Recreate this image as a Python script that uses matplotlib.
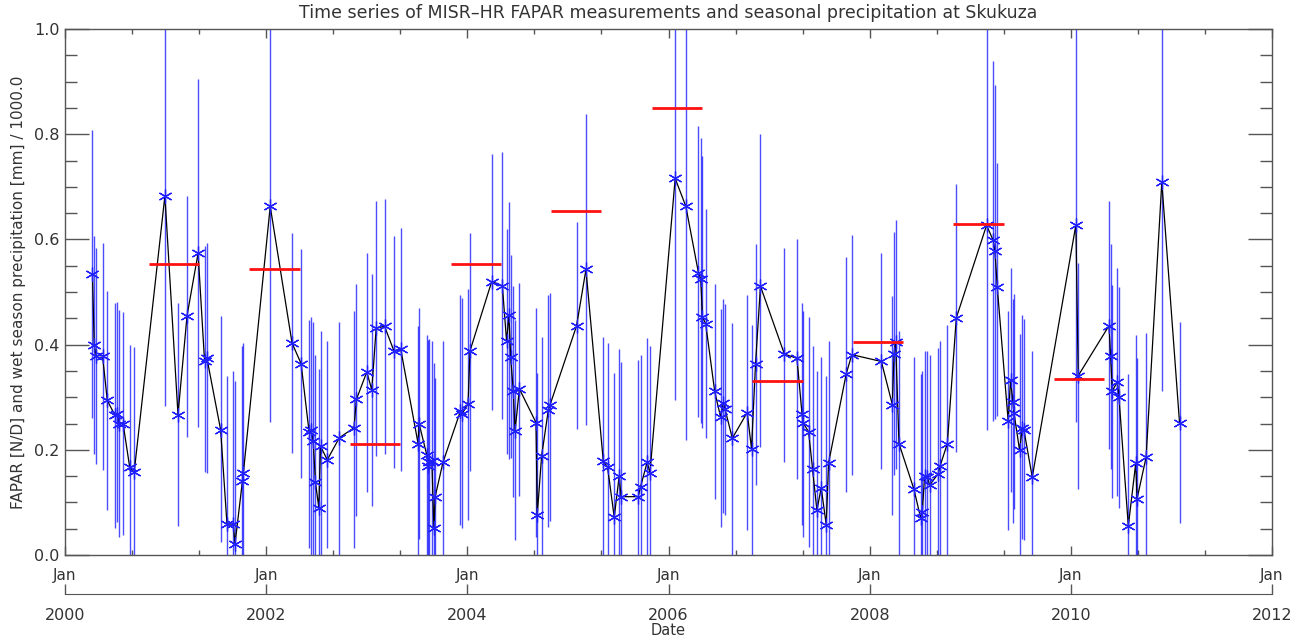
import numpy as np
import matplotlib
matplotlib.use("Agg")
from matplotlib import pyplot as plt
from matplotlib.ticker import MultipleLocator, FixedLocator

# FAPAR measurements (decimal year), value and error bar ends
dates = [2000.273, 2000.290, 2000.310, 2000.373, 2000.420, 2000.493, 2000.517, 2000.537,
         2000.577, 2000.643, 2000.687, 2000.993, 2001.123, 2001.213, 2001.323, 2001.387,
         2001.410, 2001.547, 2001.610, 2001.673, 2001.690, 2001.763, 2001.773,
         2002.040, 2002.257, 2002.347, 2002.427, 2002.447, 2002.467, 2002.490, 2002.523,
         2002.540, 2002.607, 2002.727, 2002.873, 2002.897, 2003.000, 2003.050, 2003.093,
         2003.177, 2003.270, 2003.337, 2003.510, 2003.520, 2003.597, 2003.607, 2003.623,
         2003.647, 2003.667, 2003.680, 2003.757, 2003.930, 2003.950, 2004.007, 2004.026,
         2004.242, 2004.348, 2004.390, 2004.414, 2004.430, 2004.457, 2004.474, 2004.517,
         2004.682, 2004.695, 2004.738, 2004.805, 2004.821, 2005.086, 2005.179, 2005.351,
         2005.394, 2005.460, 2005.510, 2005.527, 2005.699, 2005.722, 2005.788, 2005.815,
         2006.066, 2006.172, 2006.297, 2006.320, 2006.337, 2006.370, 2006.459, 2006.518,
         2006.545, 2006.561, 2006.634, 2006.782, 2006.825, 2006.865, 2006.914, 2007.152,
         2007.277, 2007.327, 2007.337, 2007.393, 2007.432, 2007.475, 2007.518, 2007.568,
         2007.591, 2007.766, 2007.822, 2008.116, 2008.225, 2008.242, 2008.258, 2008.291,
         2008.440, 2008.507, 2008.523, 2008.546, 2008.573, 2008.596, 2008.682, 2008.699,
         2008.772, 2008.861, 2009.162, 2009.228, 2009.245, 2009.268, 2009.377, 2009.400,
         2009.424, 2009.434, 2009.490, 2009.517, 2009.533, 2009.616, 2010.050, 2010.073,
         2010.379, 2010.395, 2010.412, 2010.462, 2010.478, 2010.571, 2010.645, 2010.658,
         2010.748, 2010.904, 2011.080]
fapar = [0.534, 0.399, 0.379, 0.379, 0.294, 0.267, 0.269, 0.250,
         0.250, 0.167, 0.157, 0.683, 0.267, 0.455, 0.574, 0.369,
         0.375, 0.238, 0.059, 0.059, 0.021, 0.141, 0.156,
         0.663, 0.403, 0.364, 0.233, 0.238, 0.217, 0.138, 0.090,
         0.207, 0.181, 0.223, 0.242, 0.296, 0.348, 0.314, 0.431,
         0.435, 0.388, 0.392, 0.212, 0.250, 0.190, 0.169, 0.176,
         0.179, 0.052, 0.111, 0.176, 0.273, 0.269, 0.288, 0.388,
         0.520, 0.512, 0.406, 0.457, 0.377, 0.311, 0.236, 0.316,
         0.252, 0.077, 0.188, 0.276, 0.285, 0.436, 0.543, 0.179,
         0.167, 0.072, 0.151, 0.111, 0.111, 0.130, 0.177, 0.156,
         0.716, 0.663, 0.537, 0.525, 0.453, 0.439, 0.311, 0.262,
         0.289, 0.278, 0.222, 0.271, 0.202, 0.364, 0.511, 0.382,
         0.374, 0.268, 0.252, 0.234, 0.164, 0.085, 0.128, 0.057,
         0.175, 0.344, 0.381, 0.368, 0.286, 0.383, 0.405, 0.212,
         0.125, 0.070, 0.082, 0.151, 0.148, 0.133, 0.155, 0.169,
         0.212, 0.451, 0.627, 0.598, 0.578, 0.510, 0.254, 0.333,
         0.291, 0.271, 0.199, 0.242, 0.238, 0.148, 0.628, 0.341,
         0.436, 0.378, 0.312, 0.329, 0.301, 0.055, 0.175, 0.107,
         0.186, 0.709, 0.252]
err_hi = [0.808, 0.607, 0.584, 0.594, 0.502, 0.479, 0.482, 0.466,
          0.462, 0.400, 0.395, 1.050, 0.479, 0.683, 0.905, 0.588,
          0.594, 0.455, 0.340, 0.350, 0.330, 0.397, 0.404,
          1.050, 0.613, 0.581, 0.446, 0.453, 0.443, 0.380, 0.354,
          0.426, 0.406, 0.444, 0.464, 0.515, 0.574, 0.535, 0.673,
          0.677, 0.607, 0.622, 0.436, 0.469, 0.418, 0.408, 0.411,
          0.406, 0.365, 0.337, 0.406, 0.495, 0.489, 0.505, 0.613,
          0.763, 0.767, 0.619, 0.672, 0.571, 0.512, 0.446, 0.518,
          0.470, 0.347, 0.415, 0.495, 0.499, 0.634, 0.838, 0.414,
          0.403, 0.346, 0.391, 0.367, 0.370, 0.380, 0.413, 0.397,
          1.050, 1.050, 0.815, 0.793, 0.759, 0.657, 0.515, 0.468,
          0.486, 0.477, 0.441, 0.495, 0.438, 0.592, 0.800, 0.584,
          0.600, 0.479, 0.464, 0.453, 0.397, 0.350, 0.377, 0.341,
          0.406, 0.567, 0.609, 0.574, 0.492, 0.614, 0.637, 0.426,
          0.377, 0.344, 0.350, 0.387, 0.387, 0.380, 0.393, 0.406,
          0.437, 0.706, 1.050, 0.940, 0.894, 0.746, 0.464, 0.546,
          0.486, 0.497, 0.420, 0.456, 0.449, 0.387, 1.050, 0.555,
          0.673, 0.591, 0.514, 0.545, 0.510, 0.345, 0.418, 0.374,
          0.423, 1.050, 0.444]
err_lo = [0.260, 0.192, 0.173, 0.161, 0.086, 0.051, 0.062, 0.034,
          0.038, 0.000, 0.000, 0.283, 0.055, 0.225, 0.244, 0.157,
          0.156, 0.024, 0.000, 0.000, 0.000, 0.000, 0.000,
          0.253, 0.194, 0.146, 0.014, 0.000, 0.000, 0.000, 0.000,
          0.000, 0.014, 0.000, 0.014, 0.074, 0.120, 0.094, 0.189,
          0.192, 0.166, 0.159, 0.000, 0.031, 0.000, 0.000, 0.000,
          0.000, 0.000, 0.000, 0.000, 0.057, 0.051, 0.067, 0.159,
          0.275, 0.258, 0.192, 0.182, 0.184, 0.110, 0.028, 0.113,
          0.034, 0.000, 0.000, 0.054, 0.064, 0.240, 0.248, 0.000,
          0.000, 0.000, 0.000, 0.000, 0.000, 0.000, 0.000, 0.000,
          0.294, 0.219, 0.262, 0.252, 0.242, 0.222, 0.107, 0.053,
          0.080, 0.077, 0.000, 0.047, 0.000, 0.134, 0.206, 0.176,
          0.145, 0.057, 0.034, 0.016, 0.000, 0.000, 0.000, 0.000,
          0.000, 0.120, 0.153, 0.163, 0.077, 0.153, 0.163, 0.000,
          0.000, 0.000, 0.000, 0.000, 0.000, 0.000, 0.000, 0.000,
          0.000, 0.196, 0.238, 0.255, 0.258, 0.265, 0.047, 0.120,
          0.061, 0.087, 0.000, 0.031, 0.028, 0.000, 0.253, 0.126,
          0.201, 0.164, 0.108, 0.113, 0.090, 0.000, 0.000, 0.000,
          0.000, 0.312, 0.061]

# wet season (Nov - Apr) precipitation, mm / 1000
season_start = [2000.833, 2001.833, 2002.833, 2003.833, 2004.833,
                2005.833, 2006.833, 2007.833, 2008.833, 2009.833]
season_end = [2001.333, 2002.333, 2003.333, 2004.333, 2005.333,
              2006.333, 2007.333, 2008.333, 2009.333, 2010.333]
precip = [0.553, 0.543, 0.212, 0.553, 0.654, 0.850, 0.331, 0.405, 0.630, 0.335]

year_ticks = [2000, 2002, 2004, 2006, 2008, 2010, 2012]

axcol = '#555555'
txtcol = '#333333'
plt.rcParams['font.family'] = 'DejaVu Sans'

fig = plt.figure(figsize=(12.98, 6.38), dpi=100)
ax = fig.add_axes([0.0501, 0.130, 0.9299, 0.8245])

ax.vlines(dates, err_lo, err_hi, color='#1010ff', linewidth=1.0, alpha=0.75, zorder=2)
ax.plot(dates, fapar, color='black', linewidth=0.9, zorder=3)
ax.plot(dates, fapar, linestyle='none', marker=(6, 2, 0), markersize=10,
        markeredgewidth=0.9, color='#2020ff', zorder=4)
ax.hlines(precip, season_start, season_end, color='#ff1010', linewidth=2.0, zorder=5)

ax.set_xlim(2000, 2012)
ax.set_ylim(0, 1.0)

# main x axis: "Jan" every two years, minor ticks every 8 months
ax.xaxis.set_major_locator(FixedLocator(year_ticks))
ax.xaxis.set_minor_locator(MultipleLocator(2 / 3))
ax.set_xticklabels(['Jan'] * len(year_ticks))
ax.yaxis.set_major_locator(MultipleLocator(0.2))
ax.yaxis.set_minor_locator(MultipleLocator(0.05))
ax.yaxis.set_major_formatter(matplotlib.ticker.FormatStrFormatter('%.1f'))

ax.tick_params(axis='x', which='major', direction='in', length=6.5, top=True,
               colors=axcol, labelcolor=txtcol, labelsize=11, pad=9, width=1)
ax.tick_params(axis='x', which='minor', direction='in', length=3.3, top=True,
               colors=axcol, width=1)
ax.tick_params(axis='y', which='major', direction='in', length=17, right=True,
               colors=axcol, labelcolor=txtcol, labelsize=11.5, pad=4, width=1)
ax.tick_params(axis='y', which='minor', direction='in', length=8.5, right=True,
               colors=axcol, width=1)
for s in ax.spines.values():
    s.set_color(axcol)
    s.set_linewidth(1.0)

ax.set_ylabel('FAPAR [N/D] and wet season precipitation [mm] / 1000.0',
              color=txtcol, fontsize=11, labelpad=6)
ax.set_title('Time series of MISR\u2013HR FAPAR measurements and seasonal precipitation at Skukuza',
             color=txtcol, fontsize=12.5, pad=8)

# second axis below with the years
sec = ax.secondary_xaxis(-0.074)
sec.xaxis.set_major_locator(FixedLocator(year_ticks))
sec.set_xticklabels([str(y) for y in year_ticks])
sec.tick_params(axis='x', which='major', direction='in', length=7.5, colors=axcol,
                labelcolor=txtcol, labelsize=11.5, pad=10, width=1)
sec.tick_params(axis='x', which='minor', length=0)
sec.spines['bottom'].set_color(axcol)
sec.set_xlabel('Date', color=txtcol, fontsize=10.5, labelpad=0)

fig.savefig('out.png', dpi=100)
